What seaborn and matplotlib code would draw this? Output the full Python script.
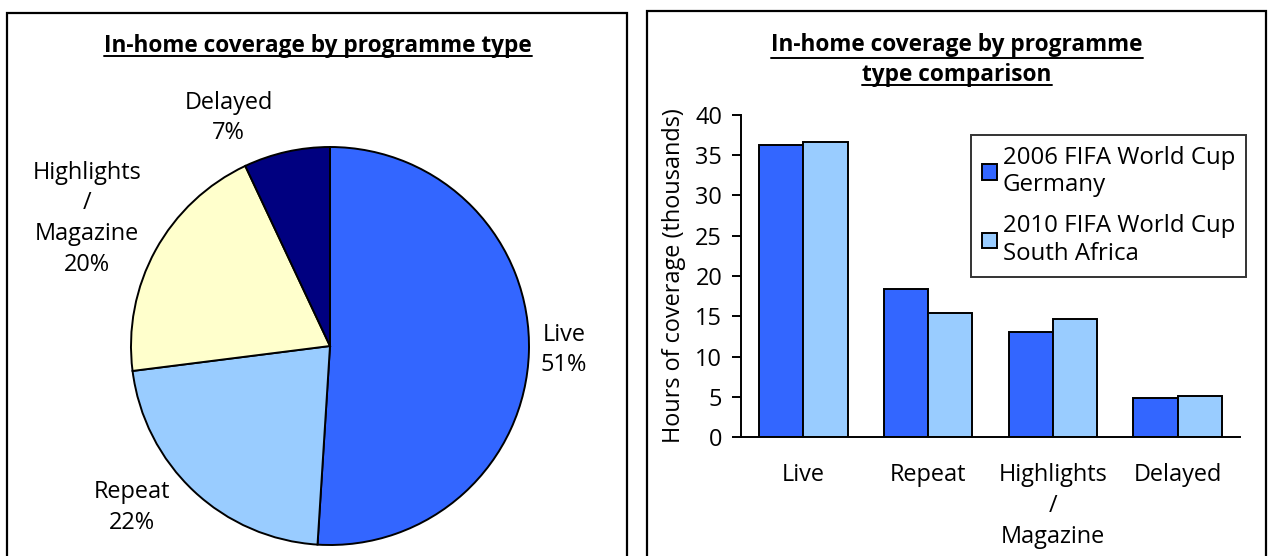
import matplotlib
matplotlib.use("Agg")
import matplotlib.pyplot as plt
from matplotlib.patches import Rectangle
from matplotlib.lines import Line2D
import seaborn as sns
import pandas as pd

# ---- data ----
pie_labels = ["Live", "Repeat", "Highlights\n/\nMagazine", "Delayed"]
pie_share = [51, 22, 20, 7]
pie_colors = ["#3366FF", "#99CCFF", "#FFFFCC", "#000080"]

bar_categories = ["Live", "Repeat", "Highlights\n/\nMagazine", "Delayed"]
series_2006 = [36.3, 18.4, 13.1, 4.8]
series_2010 = [36.6, 15.4, 14.6, 5.1]
series_names = ["2006 FIFA World Cup\nGermany", "2010 FIFA World Cup\nSouth Africa"]
bar_colors = ["#3366FF", "#99CCFF"]
y_ticks = [0, 5, 10, 15, 20, 25, 30, 35, 40]

sns.set_theme(style="white")
plt.rcParams["font.family"] = ["Open Sans", "DejaVu Sans"]
plt.rcParams["text.color"] = "black"
plt.rcParams["axes.labelcolor"] = "black"
plt.rcParams["xtick.color"] = "black"
plt.rcParams["ytick.color"] = "black"
plt.rcParams["xtick.labelcolor"] = "black"
plt.rcParams["ytick.labelcolor"] = "black"

FS = 16.9
LS = 1.37

W, H = 1272, 556
fig = plt.figure(figsize=(W / 100, H / 100), dpi=100)
fig.patch.set_facecolor("white")

def fx(px):
    return px / W

def fy(py):
    return 1 - py / H

# panel borders
for x0, x1, top in [(7, 627, 13), (647, 1266, 11)]:
    fig.patches.append(Rectangle((fx(x0), fy(600)), fx(x1) - fx(x0), fy(top) - fy(600),
                                 transform=fig.transFigure, fill=False,
                                 edgecolor="black", linewidth=1.6))

# ---- pie ----
R = 199.0
cx, cy = 330, 346
lim = 1.35
size = 2 * lim * R
axp = fig.add_axes([fx(cx - size / 2), fy(cy + size / 2), size / W, size / H])
wedges, texts = axp.pie(pie_share, colors=pie_colors, startangle=90, counterclock=False,
                        wedgeprops=dict(edgecolor="black", linewidth=1.4),
                        labels=[f"{l}\n{v}%" for l, v in zip(pie_labels, pie_share)],
                        textprops=dict(fontsize=FS, ha="center", va="center", linespacing=LS,
                                       color="black"))
label_pos = [(1.175, -0.02), (-0.995, -0.81), (-1.22, 0.64), (-0.51, 1.145)]
for t, p in zip(texts, label_pos):
    t.set_position(p)
    t.set_ha("center")
    t.set_va("center")
axp.set_xlim(-lim, lim)
axp.set_ylim(-lim, lim)
axp.set_aspect("equal")
axp.axis("off")

t1 = fig.text(fx(318), fy(46), "In-home coverage by programme type", ha="center", va="center",
              fontsize=16.3, fontweight="bold", color="black")

# ---- bars ----
df = pd.DataFrame({
    "type": bar_categories * 2,
    "hours": series_2006 + series_2010,
    "event": [series_names[0]] * 4 + [series_names[1]] * 4,
})
axb = fig.add_axes([fx(741), fy(437), fx(1240) - fx(741), fy(115) - fy(437)])
sns.barplot(data=df, x="type", y="hours", hue="event", palette=bar_colors, ax=axb,
            edgecolor="black", linewidth=1.4, width=0.71, saturation=1, errorbar=None)
axb.set_xlim(-0.5, 3.5)
axb.set_ylim(0, 40)
axb.set_yticks(y_ticks)
axb.set_yticklabels([str(v) for v in y_ticks], fontsize=FS)
axb.set_xticks(range(4))
axb.set_xticklabels(bar_categories, fontsize=FS, linespacing=LS)
axb.set_xticks([-0.5, 0.5, 1.5, 2.5, 3.5], minor=True)
axb.tick_params(axis="x", which="major", length=0, pad=19)
axb.tick_params(axis="x", which="minor", length=7, width=1.4, direction="out", color="black")
axb.tick_params(axis="y", length=6.5, width=1.4, direction="out", color="black", left=True, pad=7)
for s in ["top", "right"]:
    axb.spines[s].set_visible(False)
for s in ["left", "bottom"]:
    axb.spines[s].set_color("black")
    axb.spines[s].set_linewidth(1.4)
axb.set_xlabel("")
axb.set_ylabel("Hours of coverage (thousands)", fontsize=FS, labelpad=7, color="black")
axb.grid(False)

leg = axb.legend(loc="upper right", bbox_to_anchor=(fx(1246), fy(135)), bbox_transform=fig.transFigure,
                 borderaxespad=0, fancybox=False, frameon=True, fontsize=FS + 0.4,
                 handlelength=0.62, handleheight=0.62, handletextpad=0.25, labelspacing=0.7,
                 borderpad=0.45)
leg.get_frame().set_edgecolor("black")
leg.get_frame().set_linewidth(1.4)
for h in leg.legend_handles:
    h.set_edgecolor("black")
    h.set_linewidth(1.4)
for txt in leg.get_texts():
    txt.set_linespacing(1.2)
    txt.set_color("black")

t2 = fig.text(fx(957), fy(60), "In-home coverage by programme\ntype comparison", ha="center",
              va="center", fontsize=16.3, fontweight="bold", linespacing=1.3, color="black")

# underline titles
fig.canvas.draw()
renderer = fig.canvas.get_renderer()

def underline(txt, nlines):
    bb = txt.get_window_extent(renderer)
    lines = txt.get_text().split("\n")
    lh = bb.height / nlines
    for i, s in enumerate(lines):
        tmp = fig.text(0, 0, s, fontsize=txt.get_fontsize(), fontweight="bold")
        w = tmp.get_window_extent(renderer).width
        tmp.remove()
        xc = (bb.x0 + bb.x1) / 2
        ybase = bb.y1 - (i + 1) * lh + 2
        fig.lines.append(Line2D([(xc - w / 2) / W, (xc + w / 2) / W], [ybase / H, ybase / H],
                                transform=fig.transFigure, color="black", linewidth=1.4))

underline(t1, 1)
underline(t2, 2)

fig.savefig("out.png", dpi=100)
